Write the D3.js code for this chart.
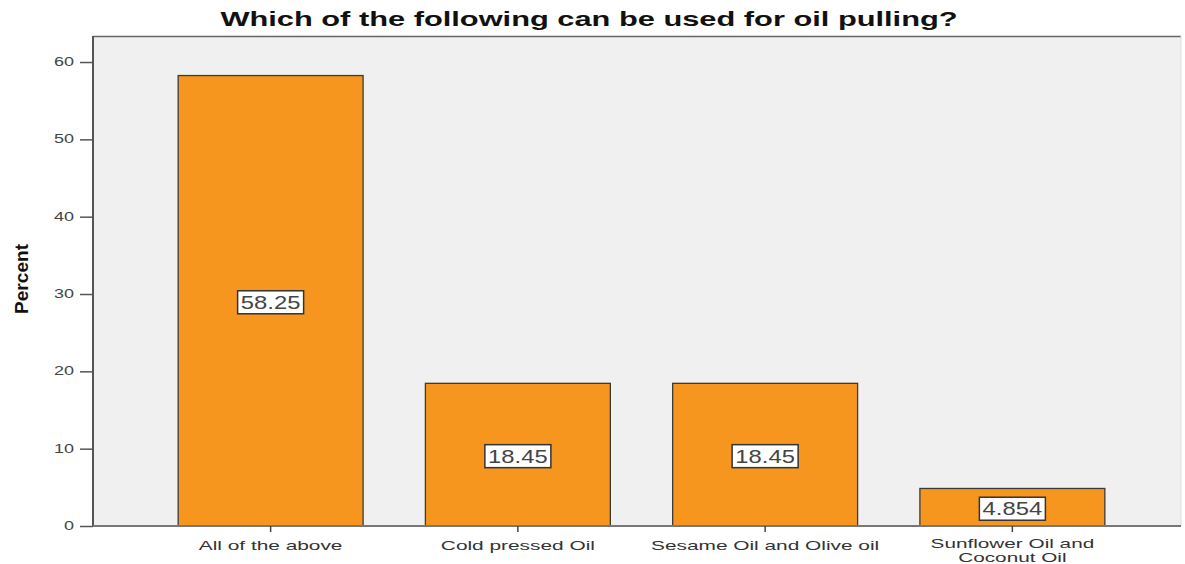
<!DOCTYPE html>
<html lang="en">
<head>
	<meta charset="utf-8">
	<title>oil pulling</title>
	<script src="https://d3js.org/d3.v7.min.js"></script>
	<style type="text/css">
		body { margin: 0; background: #fff; }
		text { font-family: Arial, "Liberation Sans", sans-serif; }
	</style>
</head>
<body>
	<svg id="chart-svg"></svg>
	<script type="text/javascript">
		// data
		let categories = ['All of the above', 'Cold pressed Oil', 'Sesame Oil and Olive oil', 'Sunflower Oil and|Coconut Oil']
		let percents = [58.25, 18.45, 18.45, 4.854]
		let valueLabels = ['58.25', '18.45', '18.45', '4.854']
		let yTicks = [0, 10, 20, 30, 40, 50, 60]

		let w = 1185
		let h = 564
		let plotLeft = 93, plotRight = 1181, plotTop = 36, plotBottom = 526

		// the source picture is stretched sideways, so text is widened too
		let stretch = 1.58

		let svg = d3.select('#chart-svg')
			.attr('width', w)
			.attr('height', h)

		let yScale = d3.scaleLinear()
			.domain([0, 60])
			.range([plotBottom, plotBottom - 6 * 77.33])

		let xScale = d3.scaleBand()
			.domain(categories)
			.range([147, 1136])
			.paddingInner(0.252)
			.paddingOuter(0.126)

		// plot background
		svg.append('rect')
			.attr('x', plotLeft).attr('y', plotTop)
			.attr('width', plotRight - plotLeft).attr('height', plotBottom - plotTop)
			.attr('fill', '#f0f0f0')
		svg.append('line')
			.attr('x1', plotLeft).attr('x2', plotRight).attr('y1', plotTop + 0.5).attr('y2', plotTop + 0.5)
			.attr('stroke', '#666').attr('stroke-width', 1.5)
		svg.append('line')
			.attr('x1', plotRight).attr('x2', plotRight).attr('y1', plotTop).attr('y2', plotBottom)
			.attr('stroke', '#ddd').attr('stroke-width', 1)

		// bars
		svg.selectAll('rect.bar')
			.data(percents)
			.enter()
			.append('rect')
			.attr('class', 'bar')
			.attr('x', (d, i) => xScale(categories[i]))
			.attr('width', xScale.bandwidth())
			.attr('y', d => yScale(d))
			.attr('height', d => yScale(0) - yScale(d))
			.attr('fill', '#f7961e')
			.attr('stroke', '#3a3a3a')
			.attr('stroke-width', 1.3)

		// y axis
		let yAxis = d3.axisLeft(yScale)
			.tickValues(yTicks)
			.tickSize(13)
			.tickFormat('')
		let yg = svg.append('g')
			.attr('transform', 'translate(' + plotLeft + ',0)')
			.call(yAxis)
		yg.select('.domain').attr('d', 'M0,' + plotTop + 'V' + plotBottom).attr('stroke', '#555').attr('stroke-width', 2)
		yg.selectAll('.tick line').attr('stroke', '#555').attr('stroke-width', 1.5)

		svg.selectAll('text.ylab')
			.data(yTicks)
			.enter()
			.append('text')
			.attr('class', 'ylab')
			.attr('text-anchor', 'end')
			.attr('font-size', 12)
			.attr('fill', '#444')
			.attr('transform', d => 'translate(74,' + (yScale(d) + 4) + ') scale(1.5,1)')
			.text(d => d)

		// x axis
		let xAxis = d3.axisBottom(xScale)
			.tickSize(6)
			.tickFormat('')
		let xg = svg.append('g')
			.attr('transform', 'translate(0,' + plotBottom + ')')
			.call(xAxis)
		xg.select('.domain').attr('d', 'M' + plotLeft + ',0H' + plotRight).attr('stroke', '#777').attr('stroke-width', 2)
		xg.selectAll('.tick line').attr('stroke', '#444').attr('stroke-width', 1.5)

		// x labels, one text per line
		categories.forEach(function(c) {
			let cx = xScale(c) + xScale.bandwidth() / 2
			let parts = c.split('|')
			parts.forEach(function(p, j) {
				let y = parts.length > 1 ? plotBottom + 22 + j * 14 : plotBottom + 24
				svg.append('text')
					.attr('text-anchor', 'middle')
					.attr('font-size', parts.length > 1 ? 12.5 : 13.2)
					.attr('fill', '#333')
					.attr('transform', 'translate(' + cx + ',' + y + ') scale(' + (parts.length > 1 ? 1.66 : stretch) + ',1)')
					.text(p)
			})
		})

		// value labels
		let lab = svg.selectAll('g.vlab')
			.data(percents)
			.enter()
			.append('g')
			.attr('class', 'vlab')
			.attr('transform', (d, i) => 'translate(' + (xScale(categories[i]) + xScale.bandwidth() / 2) + ',' + ((yScale(d) + yScale(0)) / 2 + 2) + ')')
		lab.append('rect')
			.attr('x', -33).attr('y', -12)
			.attr('width', 66).attr('height', 23)
			.attr('fill', '#fff')
			.attr('stroke', '#333')
			.attr('stroke-width', 1.5)
		lab.append('text')
			.attr('text-anchor', 'middle')
			.attr('transform', 'translate(0,6) scale(1.36,1)')
			.attr('font-size', 17.5)
			.attr('fill', '#444')
			.text((d, i) => valueLabels[i])

		// title
		svg.append('text')
			.attr('transform', 'translate(589,26) scale(' + stretch + ',1)')
			.attr('text-anchor', 'middle')
			.attr('font-size', 19.5)
			.attr('font-weight', 'bold')
			.attr('fill', '#111')
			.text('Which of the following can be used for oil pulling?')

		// y label
		svg.append('text')
			.attr('transform', 'translate(28,279) rotate(-90)')
			.attr('text-anchor', 'middle')
			.attr('font-size', 19)
			.attr('font-weight', 'bold')
			.attr('textLength', 70)
			.attr('lengthAdjust', 'spacingAndGlyphs')
			.attr('fill', '#111')
			.text('Percent')
	</script>
</body>
</html>
